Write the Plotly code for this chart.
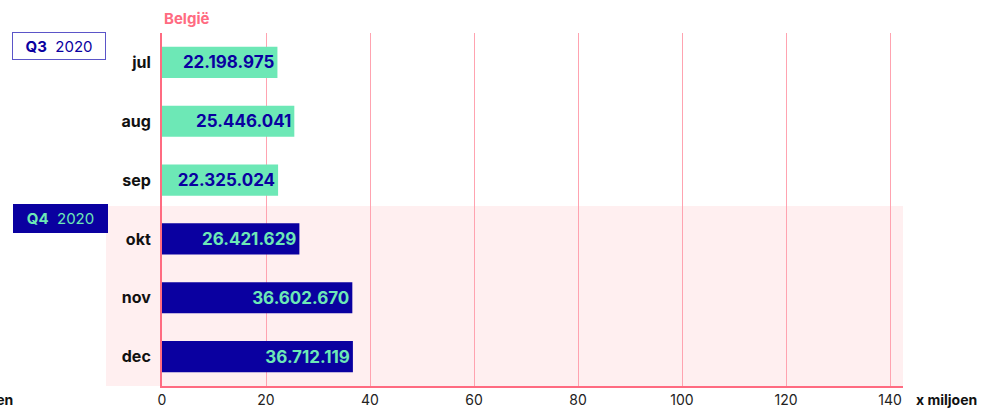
import plotly.graph_objects as go

months = ["jul", "aug", "sep", "okt", "nov", "dec"]
values = [22.198975, 25.446041, 22.325024, 26.421629, 36.602670, 36.712119]
labels = ["22.198.975", "25.446.041", "22.325.024", "26.421.629", "36.602.670", "36.712.119"]
quarter = ["Q3", "Q3", "Q3", "Q4", "Q4", "Q4"]
x_ticks = [0, 20, 40, 60, 80, 100, 120, 140]

GREEN = "#6de8b6"
BLUE = "#0a00a0"
PINK = "#ff6b81"
PINK_GRID = "#ffa3b0"
PINK_BG = "#ffeff0"
FONT = "Inter, Roboto, sans-serif"

W, H = 986, 408
L, R, T, B = 162, 83, 33, 22
pw = W - L - R
ph = H - T - B

def px_x(p):
    return (p - L) / pw

def px_y(p):
    return (H - B - p) / ph

fig = go.Figure()

fig.add_trace(go.Bar(
    y=months,
    x=values,
    orientation="h",
    width=0.53,
    marker=dict(color=[GREEN if q == "Q3" else BLUE for q in quarter], line=dict(width=0)),
    text=["<b>%s</b>" % t for t in labels],
    textposition="inside",
    insidetextanchor="end",
    textfont=dict(family=FONT, size=17, color=[BLUE if q == "Q3" else GREEN for q in quarter]),
    hoverinfo="skip",
))

# Q4 highlight band
fig.add_shape(type="rect", xref="paper", yref="paper",
              x0=px_x(106), x1=1, y0=0, y1=px_y(206),
              fillcolor=PINK_BG, line=dict(width=0), layer="below")

fig.update_layout(
    width=W, height=H,
    margin=dict(l=L, r=R, t=T, b=B, autoexpand=False),
    paper_bgcolor="white",
    plot_bgcolor="rgba(0,0,0,0)",
    showlegend=False,
    font=dict(family=FONT, color="#111111"),
    xaxis=dict(
        range=[0, 142.5],
        tickvals=x_ticks,
        ticktext=[str(v) for v in x_ticks],
        showgrid=True, gridcolor=PINK_GRID, gridwidth=1,
        zeroline=False,
        showline=True, linecolor=PINK, linewidth=2,
        tickfont=dict(family=FONT, size=14, color="#222222"),
        ticks="", fixedrange=True, automargin=False,
    ),
    yaxis=dict(
        categoryorder="array", categoryarray=months,
        autorange="reversed",
        showgrid=False, zeroline=False,
        showline=True, linecolor=PINK, linewidth=2,
        tickfont=dict(family=FONT, size=16, color="#111111", weight="bold"),
        ticks="outside", ticklen=6, tickcolor="rgba(0,0,0,0)",
        fixedrange=True, automargin=False,
    ),
)

annotations = [
    dict(text="<b>België</b>", x=px_x(162), y=px_y(19), xanchor="left", yanchor="middle",
         font=dict(family=FONT, size=15, color=PINK)),
    dict(text="<b>x miljoen</b>", x=px_x(914), y=px_y(399), xanchor="left", yanchor="middle",
         font=dict(family=FONT, size=14, color="#111111")),
    dict(text="<b>x miljoen</b>", x=px_x(15), y=px_y(399), xanchor="right", yanchor="middle",
         font=dict(family=FONT, size=14, color="#111111")),
    dict(text="<b>Q3</b>  2020", x=px_x(59), y=px_y(46), xanchor="center", yanchor="middle",
         font=dict(family=FONT, size=15, color=BLUE),
         bgcolor="white", bordercolor="#5b55c8", borderwidth=1, borderpad=4,
         width=84, height=18),
    dict(text="<b>Q4</b>  2020", x=px_x(60), y=px_y(218), xanchor="center", yanchor="middle",
         font=dict(family=FONT, size=15, color=GREEN),
         bgcolor=BLUE, bordercolor=BLUE, borderwidth=1, borderpad=4,
         width=85, height=19),
]
for a in annotations:
    a.update(xref="paper", yref="paper", showarrow=False)
    fig.add_annotation(**a)

fig.write_html("out.html", config={"displayModeBar": False},
               post_script="document.body.style.margin='0';document.body.style.overflow='hidden';")
